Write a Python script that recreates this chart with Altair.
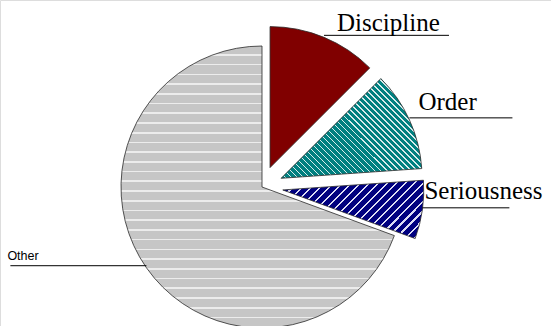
import math
import altair as alt
import pandas as pd

# ---- data ----
categories = ["Discipline", "Order", "Seriousness", "Other"]
values = [12.5, 11.4, 6.7, 69.4]

# ---- styles / layout ----
CX, CY, R = 262, 187, 141
explode = {"Discipline": 21, "Order": 21, "Seriousness": 21, "Other": 0}
label_len = {"Discipline": 125, "Order": 103, "Seriousness": 87, "Other": -136}
label_dx = {"Discipline": 13, "Order": 9, "Seriousness": 2, "Other": -139}
label_dy = {"Discipline": -4, "Order": -8, "Seriousness": -9, "Other": -6}
label_font = {"Discipline": ("Liberation Serif", 25), "Order": ("Liberation Serif", 25),
              "Seriousness": ("Liberation Serif", 25), "Other": ("Liberation Sans", 12.5)}


def stripes(base, line, n, frac, x1, y1, x2, y2):
    stops = []
    for i in range(n):
        a = round(i / n, 5)
        b = round((i + 1 - frac) / n, 5)
        c = round((i + 1) / n, 5)
        stops += [
            {"offset": a, "color": base},
            {"offset": b, "color": base},
            {"offset": b, "color": line},
            {"offset": c, "color": line},
        ]
    return {"gradient": "linear", "x1": x1, "y1": y1, "x2": x2, "y2": y2, "stops": stops}


def diag(W, H, down):
    k = (W + H) / (W * W + H * H)
    if down:  # "\" lines
        return 0, 1, round(k * W, 4), round(1 - k * H, 4)
    return 0, 0, round(k * W, 4), round(k * H, 4)  # "/" lines


fills = {
    "Discipline": "#800000",
    "Order": stripes("#008080", "#d8ecec", 40, 0.26, *diag(141, 100, True)),
    "Seriousness": stripes("#000080", "#dcdcf4", 22, 0.24, *diag(141, 58, False)),
    "Other": stripes("#c6c6c6", "#ececec", 29, 0.17, 0, 0, 0, 1),
}

df = pd.DataFrame({"category": categories, "value": values})
df["idx"] = range(len(df))
df["explode"] = df["category"].map(explode)
df["len"] = df["category"].map(label_len)
df["tdx"] = df["category"].map(label_dx)
df["tdy"] = df["category"].map(label_dy)

total = sum(values)

base = alt.Chart(df).transform_window(
    cum="sum(value)", sort=[alt.SortField("idx")], frame=[None, 0]
).transform_calculate(
    start="datum.cum - datum.value",
    mid=f"(datum.cum - datum.value / 2) / {total} * 2 * PI",
    cx=f"{CX} + datum.explode * sin(datum.mid)",
    cy=f"{CY} - datum.explode * cos(datum.mid)",
    lx=f"datum.cx + {R} * sin(datum.mid)",
    ly=f"datum.cy - {R} * cos(datum.mid) - 2",
    lx2="datum.lx + datum.len",
    tx="datum.lx + datum.tdx",
    ty="datum.ly + datum.tdy",
)

theta_scale = alt.Scale(domain=[0, total], range=[0, 2 * math.pi])

layers = []
for c in categories:
    sub = base.transform_filter(alt.datum.category == c)
    layers.append(
        sub.mark_arc(outerRadius=R, innerRadius=0, fill=fills[c], stroke="#2a2a2a",
                     strokeWidth=0.8).encode(
            theta=alt.Theta("start:Q", scale=theta_scale),
            theta2=alt.Theta2("cum:Q"),
            x=alt.X("cx:Q", scale=None, axis=None),
            y=alt.Y("cy:Q", scale=None, axis=None),
        )
    )

for c in categories:
    sub = base.transform_filter(alt.datum.category == c)
    layers.append(
        sub.mark_rule(color="#000000", strokeWidth=1).encode(
            x=alt.X("lx:Q", scale=None, axis=None),
            x2=alt.X2("lx2:Q"),
            y=alt.Y("ly:Q", scale=None, axis=None),
        )
    )
    fnt, size = label_font[c]
    layers.append(
        sub.mark_text(align="left", baseline="alphabetic", font=fnt, fontSize=size,
                      color="#000000").encode(
            x=alt.X("tx:Q", scale=None, axis=None),
            y=alt.Y("ty:Q", scale=None, axis=None),
            text="category:N",
        )
    )

chart = alt.layer(*layers).properties(
    width=551, height=326, padding=0, autosize=alt.AutoSizeParams(type="none")
).configure_view(stroke=None).configure(background="#ffffff")

chart.save("out.html", embed_options={"renderer": "svg", "actions": False})
